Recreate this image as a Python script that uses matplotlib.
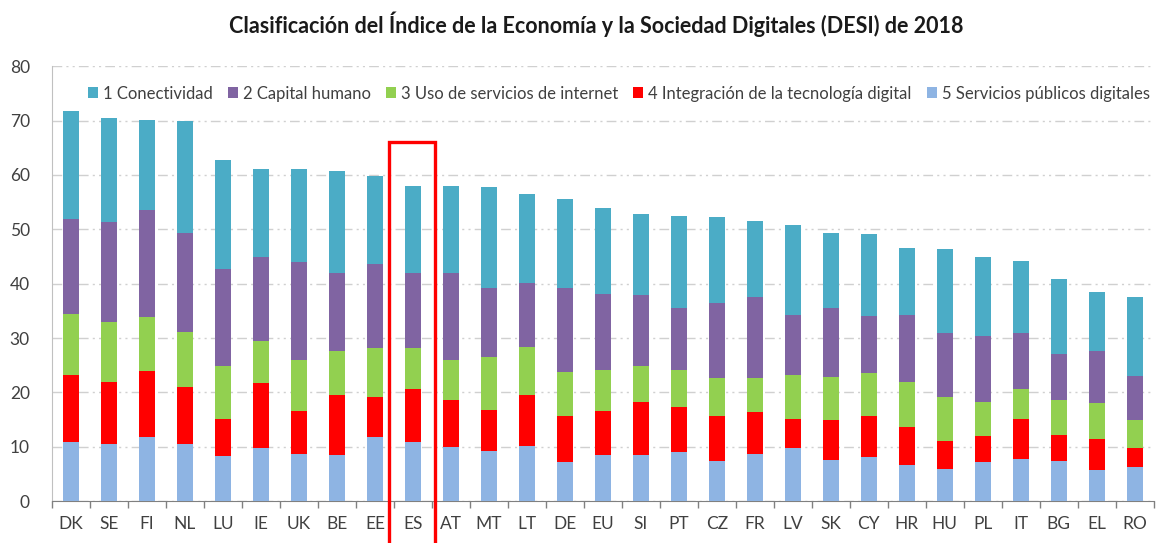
import matplotlib
matplotlib.use("Agg")
import matplotlib.pyplot as plt
import numpy as np
from matplotlib.patches import Rectangle

plt.rcParams["font.family"] = ["Lato", "DejaVu Sans"]

countries = ["DK", "SE", "FI", "NL", "LU", "IE", "UK", "BE", "EE", "ES",
             "AT", "MT", "LT", "DE", "EU", "SI", "PT", "CZ", "FR", "LV",
             "SK", "CY", "HR", "HU", "PL", "IT", "BG", "EL", "RO"]

# DESI 2018 dimension scores
conectividad = [19.8, 19.0, 16.6, 20.5, 20.0, 16.2, 17.2, 18.8, 16.1, 16.1,
                16.0, 18.4, 16.3, 16.3, 15.8, 15.0, 16.8, 15.8, 14.0, 16.6,
                13.8, 15.2, 12.3, 15.4, 14.6, 13.1, 13.8, 10.8, 14.5]
capital_humano = [17.4, 18.5, 19.7, 18.3, 17.9, 15.5, 17.9, 14.3, 15.4, 13.8,
                  16.0, 12.8, 11.9, 15.6, 14.0, 13.1, 11.4, 13.8, 14.9, 10.9,
                  12.8, 10.5, 12.4, 11.9, 12.2, 10.3, 8.4, 9.6, 8.0]
uso_internet = [11.2, 11.0, 9.8, 10.1, 9.7, 7.7, 9.4, 8.0, 9.1, 7.4,
                7.3, 9.7, 8.7, 8.0, 7.6, 6.6, 6.9, 6.9, 6.2, 8.1,
                7.8, 7.8, 8.3, 8.0, 6.2, 5.5, 6.5, 6.6, 5.2]
integracion = [12.5, 11.3, 12.2, 10.4, 6.8, 12.0, 7.9, 11.1, 7.4, 9.9,
               8.8, 7.6, 9.4, 8.4, 8.1, 9.7, 8.3, 8.3, 7.65, 5.5,
               7.4, 7.6, 6.9, 5.1, 4.8, 7.4, 4.8, 5.65, 3.6]
servicios_publicos = [10.8, 10.6, 11.8, 10.6, 8.3, 9.7, 8.75, 8.5, 11.75, 10.8,
                      9.9, 9.2, 10.2, 7.3, 8.5, 8.5, 9.0, 7.4, 8.75, 9.7,
                      7.6, 8.1, 6.7, 6.0, 7.2, 7.8, 7.4, 5.75, 6.2]

labels = ["1 Conectividad", "2 Capital humano", "3 Uso de servicios de internet",
          "4 Integración de la tecnología digital", "5 Servicios públicos digitales"]
colors = ["#4BACC6", "#8064A2", "#92D050", "#FF0000", "#8EB4E3"]

highlight = "ES"

fig = plt.figure(figsize=(11.56, 5.43), dpi=100)
ax = fig.add_axes([0.045, 0.077, 0.953, 0.801])

x = np.arange(len(countries))
width = 0.43
series = [conectividad, capital_humano, uso_internet, integracion, servicios_publicos]

# stack bottom-up: 5, 4, 3, 2, 1
bottom = np.zeros(len(countries))
handles = {}
for vals, lab, col in reversed(list(zip(series, labels, colors))):
    vals = np.array(vals)
    handles[lab] = ax.bar(x, vals, width, bottom=bottom, color=col, label=lab, zorder=3)
    bottom += vals

ax.set_xlim(-0.5, len(countries) - 0.5)
ax.set_ylim(0, 80)
ax.set_yticks(np.arange(0, 81, 10))
ax.set_xticks(x)
ax.set_xticklabels(countries)
ax.set_xticks(np.arange(-0.5, len(countries), 1), minor=True)

ax.tick_params(axis="x", which="major", length=0, pad=11, labelsize=12.5, colors="#404040")
ax.tick_params(axis="x", which="minor", length=5, width=1, color="#808080", direction="out")
ax.tick_params(axis="y", length=0, pad=16, labelsize=12.5, colors="#404040")

ax.grid(axis="y", color="#D0D0D0", lw=1, linestyle=(0, (7, 3, 1.5, 3, 1.5, 3)), zorder=0)
for s in ["top", "right"]:
    ax.spines[s].set_visible(False)
ax.spines["left"].set_color("#C0C0C0")
ax.spines["bottom"].set_color("#808080")

ax.legend([handles[l] for l in labels], labels, loc="upper center",
          bbox_to_anchor=(0.5145, 0.99), ncol=5, frameon=False, fontsize=12,
          handlelength=0.6, handleheight=0.6, handletextpad=0.3, columnspacing=0.9,
          labelcolor="#404040")

# red box around the highlighted country
i = countries.index(highlight)
box = Rectangle((i - 0.62, -12), 1.2, 78, fill=False, edgecolor="#FF0000",
                lw=2.4, clip_on=False, zorder=5)
ax.add_patch(box)

fig.suptitle("Clasificación del Índice de la Economía y la Sociedad Digitales (DESI) de 2018",
             x=0.516, y=0.978, fontsize=15.5, fontweight="bold", color="#1a1a1a")

fig.savefig("out.png", dpi=100)
